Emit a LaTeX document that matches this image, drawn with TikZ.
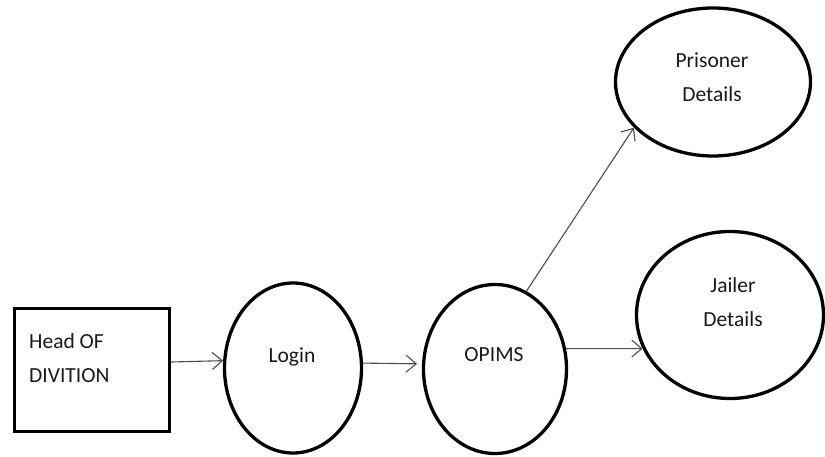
\documentclass[tikz,border=0pt]{standalone}
\usepackage{fontspec}
\setmainfont{Carlito}
\usetikzlibrary{shapes.geometric,arrows.meta}
\tikzset{
    bubble/.style={ellipse,draw,line width=3.3pt,inner sep=0pt},
    actor/.style={rectangle,draw,line width=3.3pt,inner sep=0pt},
    lbl/.style={font=\fontsize{21.5}{34}\selectfont,text=black!90,inner sep=0pt,align=center},
    arr/.style={-{Straight Barb[length=10pt,width=17pt]},line width=1.1pt,draw=black!70}
}
\begin{document}
\begin{tikzpicture}[x=1pt,y=-1pt]
    \useasboundingbox (0,0) rectangle (825,457);
    % nodes
    \node[actor,minimum width=155pt,minimum height=123pt] (hod) at (92,370) {};
    \node[lbl,anchor=west,align=left] (hod-t) at (29,358) {Head OF\\DIVITION};
    \node[bubble,minimum width=137pt,minimum height=170pt] (login) at (293,368) {};
    \node[lbl] (login-t) at (292,357) {Login};
    \node[bubble,minimum width=143pt,minimum height=169pt] (opims) at (495,369) {};
    \node[lbl] (opims-t) at (494,355) {OPIMS};
    \node[bubble,minimum width=195pt,minimum height=148pt] (pris) at (713,82) {};
    \node[lbl] (pris-t) at (712,77) {Prisoner\\Details};
    \node[bubble,minimum width=187pt,minimum height=167pt] (jail) at (730,315) {};
    \node[lbl] (jail-t) at (733,302) {Jailer\\Details};
    % connectors
    \draw[arr] ([yshift=8pt]hod.east) -- (login.174);
    \draw[arr,shorten >=5pt] (login.4) -- (opims.176);
    \draw[arr] (opims.68) -- (pris.210);
    \draw[arr] (opims.16) -- (jail.201);
\end{tikzpicture}
\end{document}
